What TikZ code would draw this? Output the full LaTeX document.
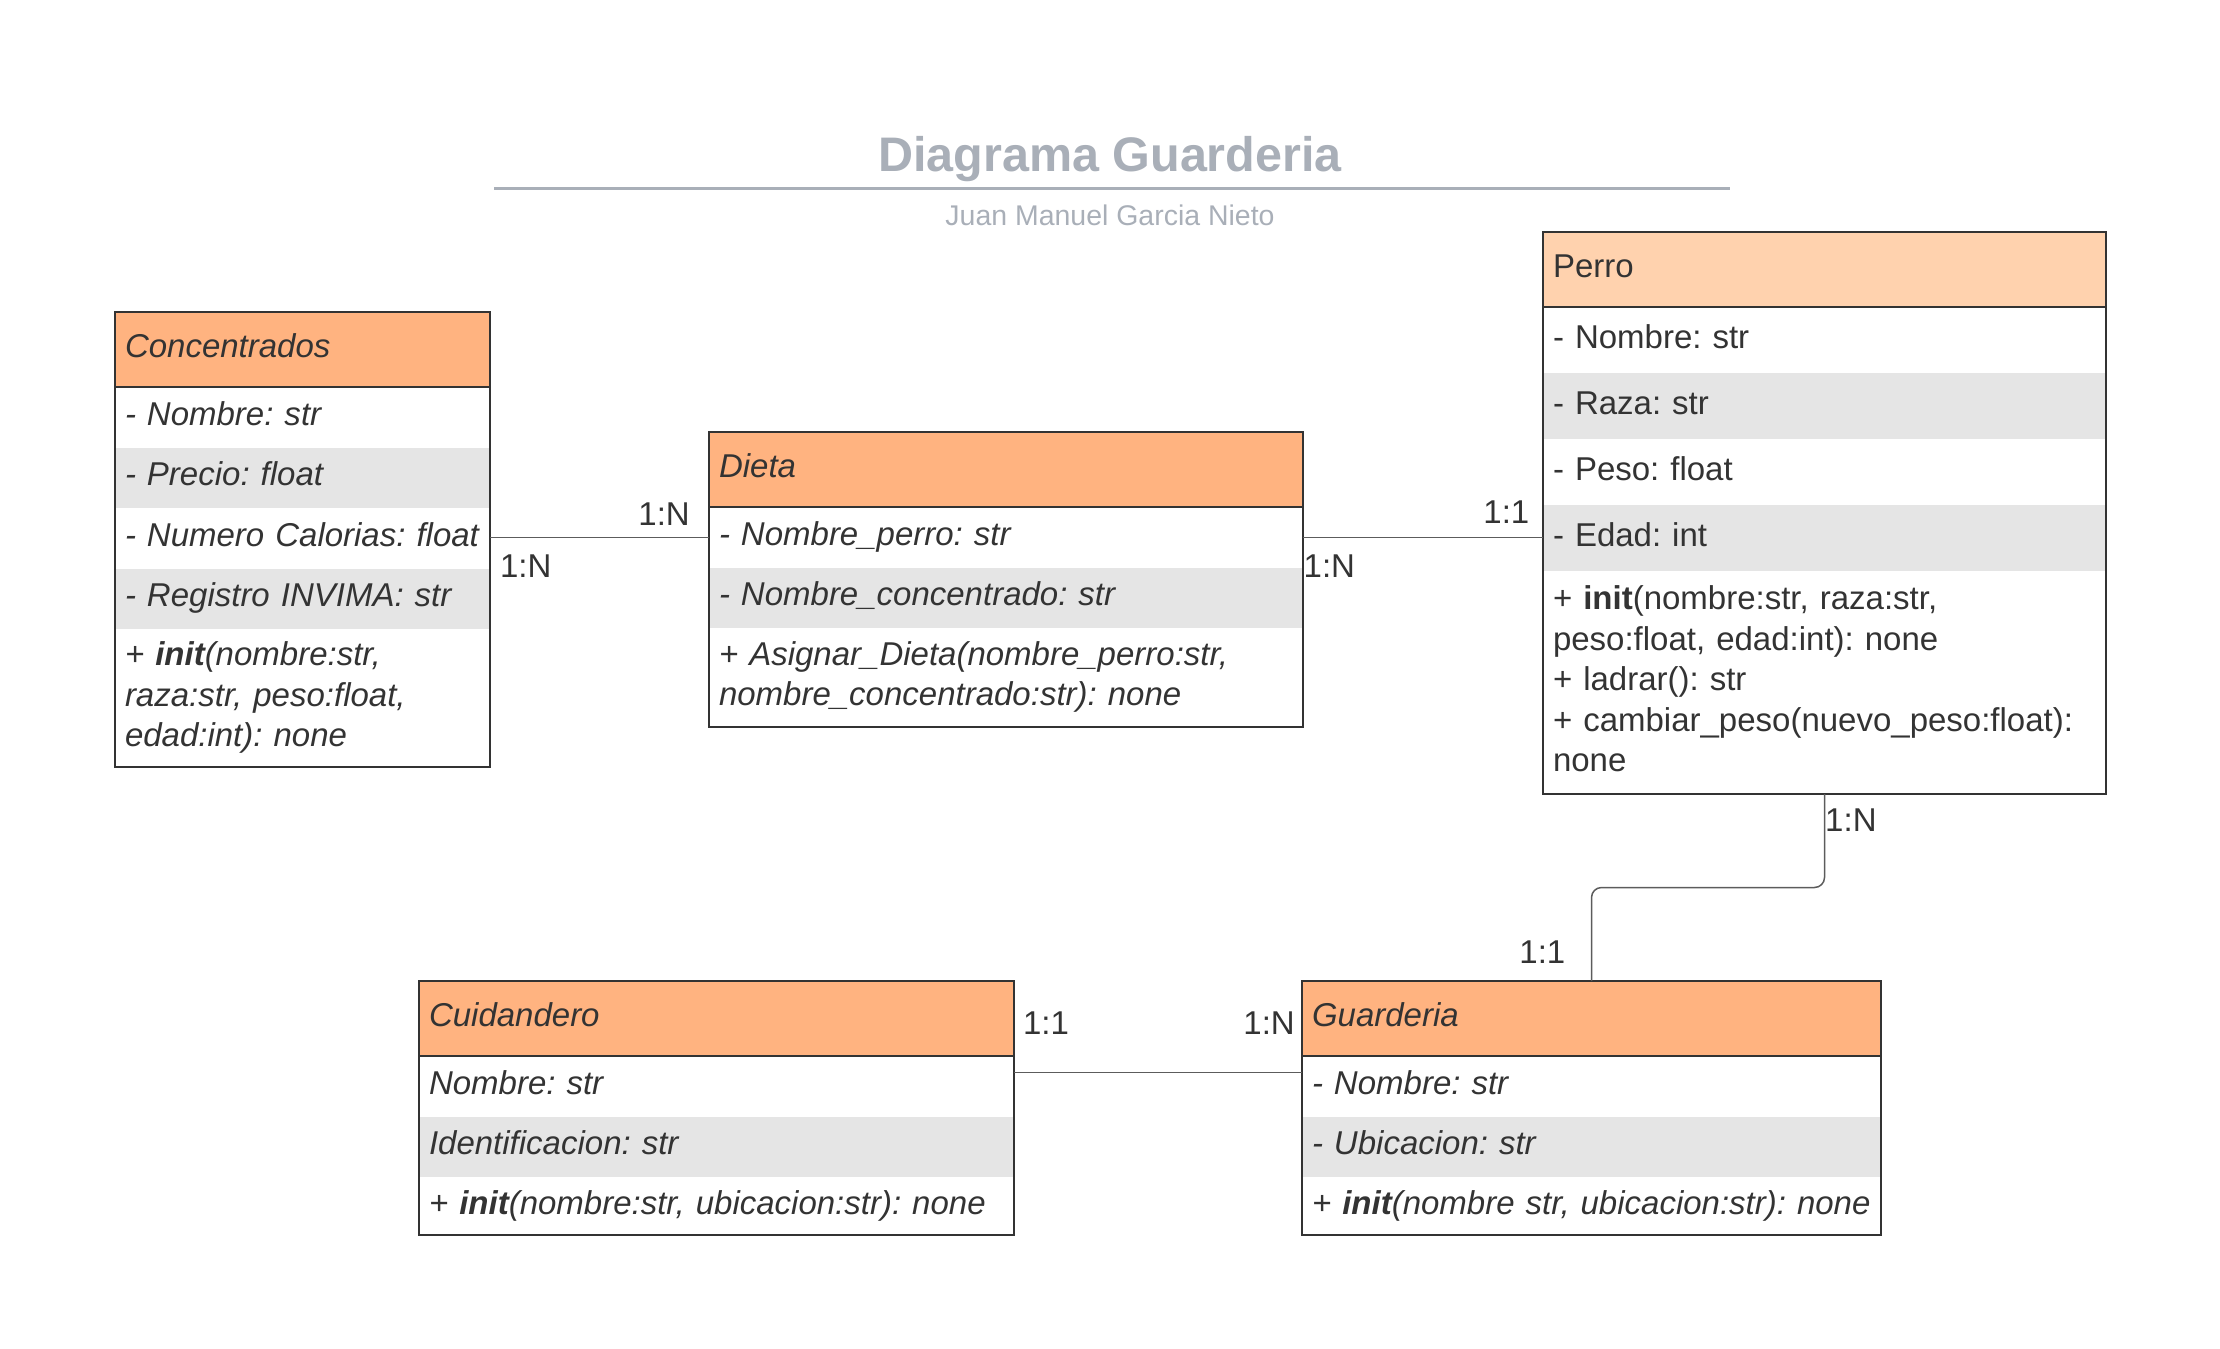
\documentclass[tikz,border=0pt]{standalone}
\usepackage{fontspec}
\setmainfont{Liberation Sans}
\usetikzlibrary{positioning}

\definecolor{headorange}{HTML}{FFB380}
\definecolor{headpeach}{HTML}{FFD2AE}
\definecolor{rowgray}{HTML}{E5E5E5}
\definecolor{linegray}{HTML}{333333}
\definecolor{textgray}{HTML}{333333}
\definecolor{titlegray}{HTML}{A9AFB8}
\definecolor{conngray}{HTML}{5C5C5C}

\newcommand{\umlfont}{\fontsize{9.39pt}{11.52pt}\selectfont\frenchspacing}

\begin{document}
\begin{tikzpicture}[
    umlrow/.style={rectangle, inner xsep=0.1cm, inner ysep=0pt, outer sep=0pt, align=left,
        font=\umlfont, text=textgray, minimum height=0.605cm,
        execute at begin node=\strut, execute at end node=\strut},
    umlhead/.style={umlrow, fill=headorange, minimum height=0.75cm},
    ital/.style={font=\umlfont\itshape},
    stripe/.style={fill=rowgray},
    outline/.style={draw=linegray, line width=0.57pt},
    conn/.style={draw=conngray, line width=0.43pt},
    card/.style={font=\umlfont, text=textgray, inner sep=0pt},
    wconc/.style={text width=3.55cm},
    wdieta/.style={text width=5.74cm},
    wperro/.style={text width=5.43cm},
    wcuid/.style={text width=5.75cm},
    wguard/.style={text width=5.59cm}
]

    % Fix the page size
    \useasboundingbox (0,0) rectangle (22.2,-13.48);

    % Title and author
    \node[font=\fontsize{13.8pt}{16pt}\selectfont\bfseries, text=titlegray, inner sep=0pt, anchor=base] (title) at (11.1,-1.71) {Diagrama Guarderia};
    \draw[titlegray, line width=0.77pt] (4.94,-1.887) -- (17.30,-1.887);
    \node[font=\fontsize{8.1pt}{10pt}\selectfont, text=titlegray, inner sep=0pt, anchor=base] (author) at (11.1,-2.25) {Juan Manuel Garcia Nieto};

    % Concentrados class
    \node[umlhead, ital, wconc, anchor=north west] (conc-h) at (1.15,-3.12) {Concentrados};
    \node[umlrow, ital, wconc, below=0pt of conc-h] (conc-a1) {- Nombre: str};
    \node[umlrow, ital, wconc, stripe, below=0pt of conc-a1] (conc-a2) {- Precio: float};
    \node[umlrow, ital, wconc, below=0pt of conc-a2] (conc-a3) {- Numero Calorias: float};
    \node[umlrow, ital, wconc, stripe, below=0pt of conc-a3] (conc-a4) {- Registro INVIMA: str};
    \node[umlrow, ital, wconc, minimum height=1.38cm, below=0pt of conc-a4] (conc-m)
        {+ \textbf{init}(nombre:str,\\raza:str, peso:float,\\edad:int): none};
    \draw[outline] (conc-h.north west) rectangle (conc-m.south east);
    \draw[outline] (conc-h.south west) -- (conc-h.south east);

    % Dieta class
    \node[umlhead, ital, wdieta, anchor=north west] (dieta-h) at (7.09,-4.32) {Dieta};
    \node[umlrow, ital, wdieta, below=0pt of dieta-h] (dieta-a1) {- Nombre\_perro: str};
    \node[umlrow, ital, wdieta, stripe, below=0pt of dieta-a1] (dieta-a2) {- Nombre\_concentrado: str};
    \node[umlrow, ital, wdieta, minimum height=0.99cm, below=0pt of dieta-a2] (dieta-m)
        {+ Asignar\_Dieta(nombre\_perro:str,\\nombre\_concentrado:str): none};
    \draw[outline] (dieta-h.north west) rectangle (dieta-m.south east);
    \draw[outline] (dieta-h.south west) -- (dieta-h.south east);

    % Perro class (upright text, lighter header)
    \node[umlhead, wperro, fill=headpeach, anchor=north west] (perro-h) at (15.43,-2.32) {Perro};
    \node[umlrow, wperro, minimum height=0.66cm, below=0pt of perro-h] (perro-a1) {- Nombre: str};
    \node[umlrow, wperro, stripe, minimum height=0.66cm, below=0pt of perro-a1] (perro-a2) {- Raza: str};
    \node[umlrow, wperro, minimum height=0.66cm, below=0pt of perro-a2] (perro-a3) {- Peso: float};
    \node[umlrow, wperro, stripe, minimum height=0.66cm, below=0pt of perro-a3] (perro-a4) {- Edad: int};
    \node[umlrow, wperro, minimum height=2.23cm, below=0pt of perro-a4] (perro-m)
        {+ \textbf{init}(nombre:str, raza:str,\\peso:float, edad:int): none\\+ ladrar(): str\\+ cambiar\_peso(nuevo\_peso:float):\\none};
    \draw[outline] (perro-h.north west) rectangle (perro-m.south east);
    \draw[outline] (perro-h.south west) -- (perro-h.south east);

    % Cuidandero class
    \node[umlhead, ital, wcuid, anchor=north west] (cuid-h) at (4.19,-9.81) {Cuidandero};
    \node[umlrow, ital, wcuid, below=0pt of cuid-h] (cuid-a1) {Nombre: str};
    \node[umlrow, ital, wcuid, stripe, below=0pt of cuid-a1] (cuid-a2) {Identificacion: str};
    \node[umlrow, ital, wcuid, minimum height=0.58cm, below=0pt of cuid-a2] (cuid-m)
        {+ \textbf{init}(nombre:str, ubicacion:str): none};
    \draw[outline] (cuid-h.north west) rectangle (cuid-m.south east);
    \draw[outline] (cuid-h.south west) -- (cuid-h.south east);

    % Guarderia class
    \node[umlhead, ital, wguard, anchor=north west] (guard-h) at (13.02,-9.81) {Guarderia};
    \node[umlrow, ital, wguard, below=0pt of guard-h] (guard-a1) {- Nombre: str};
    \node[umlrow, ital, wguard, stripe, below=0pt of guard-a1] (guard-a2) {- Ubicacion: str};
    \node[umlrow, ital, wguard, minimum height=0.58cm, below=0pt of guard-a2] (guard-m)
        {+ \textbf{init}(nombre str, ubicacion:str): none};
    \draw[outline] (guard-h.north west) rectangle (guard-m.south east);
    \draw[outline] (guard-h.south west) -- (guard-h.south east);

    % Relations
    \draw[conn] (dieta-a1.west -| conc-a3.east) -- (dieta-a1.west);
    \draw[conn] (dieta-a1.east) -- (dieta-a1.east -| perro-a4.west);
    \draw[conn, rounded corners=0.1cm] (perro-m.south) -- ++(0,-0.935) -| (guard-h.north);
    \draw[conn] ([yshift=0.14cm]cuid-a1.east) -- ([yshift=0.14cm]guard-a1.west);

    % Cardinalities
    \node[card, anchor=base west] (card-cd) at ([xshift=0.094cm, yshift=-0.39cm]conc-a3.east) {1:N};
    \node[card, anchor=base east] (card-dc) at ([xshift=-0.185cm, yshift=0.12cm]dieta-a1.west) {1:N};
    \node[card, anchor=base west] (card-dp) at ([yshift=-0.40cm]dieta-a1.east) {1:N};
    \node[card, anchor=base east] (card-pd) at ([xshift=-0.13cm, yshift=0.145cm]perro-a4.west) {1:1};
    \node[card, anchor=base west] (card-pg) at ([yshift=-0.37cm]perro-m.south) {1:N};
    \node[card, anchor=base east] (card-gp) at ([xshift=-0.255cm, yshift=0.18cm]guard-h.north) {1:1};
    \node[card, anchor=base west] (card-cg) at ([xshift=0.084cm, yshift=0.52cm]cuid-a1.east) {1:1};
    \node[card, anchor=base east] (card-gc) at ([xshift=-0.065cm, yshift=0.52cm]guard-a1.west) {1:N};

\end{tikzpicture}
\end{document}
